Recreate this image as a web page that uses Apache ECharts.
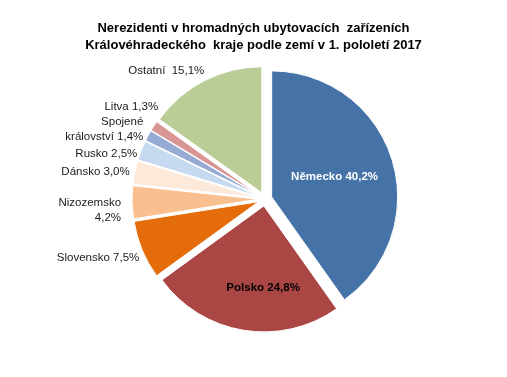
<!DOCTYPE html>
<html>
<head>
<meta charset="utf-8">
<script src="https://cdn.jsdelivr.net/npm/echarts@6/dist/echarts.min.js"></script>
<style>
html,body{margin:0;padding:0;background:#fff;}
#chart{width:507px;height:377px;}
</style>
</head>
<body>
<div id="chart"></div>
<script>
// podíl nerezidentů podle zemí (%)
var countries = ['Německo', 'Polsko', 'Slovensko', 'Nizozemsko', 'Dánsko', 'Rusko', 'Spojené\nkrálovství', 'Litva', 'Ostatní'];
var shares = [40.2, 24.8, 7.5, 4.2, 3.0, 2.5, 1.4, 1.3, 15.1];
var separators = [' ', ' ', ' ', '\n', ' ', ' ', ' ', ' ', '  '];
var palette = ['#4573a7', '#aa4644', '#e46c0a', '#f9bf8f', '#fde9d9', '#c6d9f1', '#95abd4', '#d99694', '#bbcd96'];

// posun popisků oproti výchozí poloze [dx, dy]
var labelShift = [[0, 0], [10, 17], [4, 7], [-4, 8], [2, 0], [3, 4], [2, -5], [11, -18], [6, -8]];

var chart = echarts.init(document.getElementById('chart'));

var items = [];
for (var i = 0; i < countries.length; i++) {
	var it = {
		name: countries[i],
		value: shares[i],
		selected: true,
		itemStyle: { color: palette[i] }
	};
	if (i == 0 || i == 1) {
		it.label = {
			position: 'inside',
			fontWeight: 'bold',
			color: i == 0 ? '#ffffff' : '#000000'
		};
	}
	items.push(it);
}

chart.setOption({
	animation: false,
	title: {
		text: 'Nerezidenti v hromadných ubytovacích  zařízeních\nKrálovéhradeckého  kraje podle zemí v 1. pololetí 2017',
		left: 'center',
		top: 15,
		textStyle: {
			fontFamily: 'Liberation Sans',
			fontSize: 13,
			fontWeight: 'bold',
			color: '#000',
			lineHeight: 17
		}
	},
	series: [{
		type: 'pie',
		center: [265, 199],
		radius: [0, 126],
		startAngle: 90,
		clockwise: true,
		selectedMode: 'multiple',
		selectedOffset: 7,
		avoidLabelOverlap: false,
		itemStyle: { borderColor: '#fff', borderWidth: 1 },
		emphasis: { disabled: true },
		select: { disabled: false, itemStyle: { borderColor: '#fff', borderWidth: 1 } },
		label: {
			position: 'outside',
			fontFamily: 'Liberation Sans',
			fontSize: 11.5,
			color: '#1a1a1a',
			align: 'center',
			lineHeight: 15,
			formatter: function (p) {
				return p.name + separators[p.dataIndex] + p.value.toFixed(1).replace('.', ',') + '%';
			}
		},
		labelLine: { show: false, length: 2, length2: 0 },
		labelLayout: function (p) {
			var s = labelShift[p.dataIndex];
			return { dx: s[0], dy: s[1] };
		},
		data: items
	}]
});
</script>
</body>
</html>
